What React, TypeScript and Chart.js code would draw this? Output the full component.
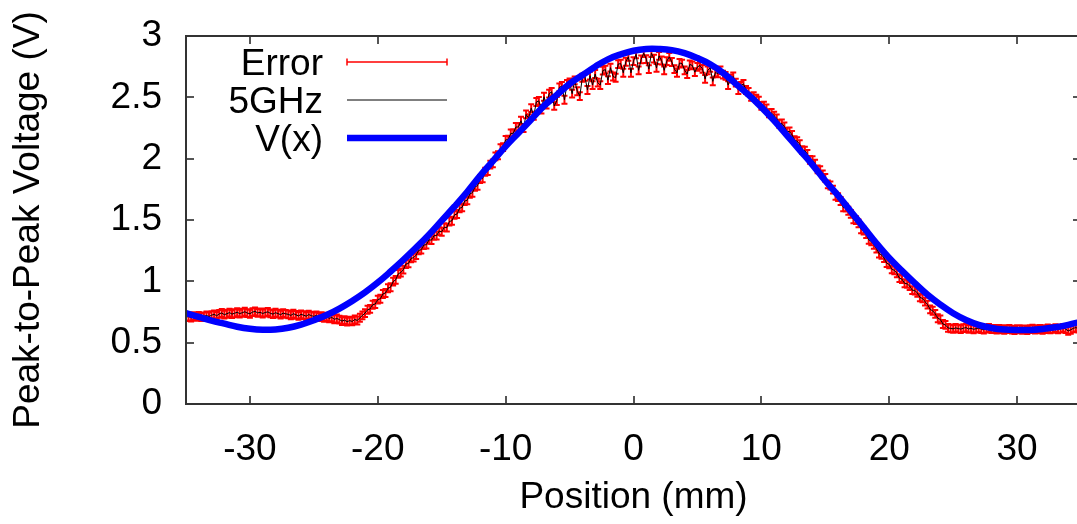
import React, { useEffect, useRef } from "react";
import { Chart, registerables } from "chart.js";

Chart.register(...registerables);

// ---- data ----
// measured positions start at -35 mm, one sample every 0.2 mm
const POSITION_START = -35;
const POSITION_STEP = 0.2;
const VOLTAGE_5GHZ = [
  0.708, 0.713, 0.705, 0.716, 0.711, 0.719, 0.709, 0.714, 0.722, 0.713,
  0.724, 0.731, 0.719, 0.735, 0.742, 0.728, 0.736, 0.745, 0.733, 0.74,
  0.748, 0.737, 0.744, 0.752, 0.741, 0.736, 0.749, 0.755, 0.743, 0.747,
  0.738, 0.746, 0.751, 0.739, 0.733, 0.744, 0.737, 0.728, 0.741, 0.735,
  0.731, 0.722, 0.736, 0.727, 0.718, 0.731, 0.724, 0.716, 0.729, 0.72,
  0.714, 0.723, 0.708, 0.716, 0.703, 0.712, 0.698, 0.706, 0.691, 0.697,
  0.688, 0.676, 0.684, 0.671, 0.68, 0.673, 0.689, 0.681, 0.703, 0.722,
  0.741, 0.768, 0.775, 0.809, 0.815, 0.851, 0.858, 0.897, 0.905, 0.944,
  0.952, 0.998, 1.012, 1.061, 1.072, 1.095, 1.141, 1.146, 1.187, 1.193,
  1.214, 1.252, 1.258, 1.296, 1.299, 1.338, 1.336, 1.372, 1.374, 1.409,
  1.404, 1.441, 1.438, 1.488, 1.494, 1.542, 1.549, 1.596, 1.603, 1.655,
  1.661, 1.713, 1.722, 1.771, 1.779, 1.834, 1.839, 1.893, 1.898, 1.952,
  1.962, 2.019, 2.028, 2.086, 2.094, 2.153, 2.155, 2.205, 2.207, 2.258,
  2.258, 2.309, 2.25, 2.361, 2.33, 2.412, 2.35, 2.462, 2.471, 2.4,
  2.505, 2.44, 2.53, 2.545, 2.43, 2.47, 2.581, 2.592, 2.48, 2.61,
  2.622, 2.53, 2.638, 2.55, 2.51, 2.66, 2.668, 2.56, 2.677, 2.6,
  2.69, 2.62, 2.6, 2.718, 2.726, 2.64, 2.742, 2.67, 2.66, 2.771,
  2.775, 2.7, 2.79, 2.83, 2.7, 2.795, 2.85, 2.72, 2.81, 2.86,
  2.812, 2.73, 2.86, 2.815, 2.74, 2.838, 2.8, 2.72, 2.795, 2.83,
  2.788, 2.73, 2.7, 2.78, 2.775, 2.72, 2.69, 2.768, 2.76, 2.705,
  2.748, 2.76, 2.732, 2.65, 2.72, 2.74, 2.63, 2.702, 2.695, 2.72,
  2.685, 2.675, 2.6, 2.652, 2.67, 2.62, 2.56, 2.594, 2.61, 2.56,
  2.545, 2.505, 2.51, 2.49, 2.472, 2.43, 2.433, 2.41, 2.37, 2.372,
  2.35, 2.328, 2.285, 2.288, 2.262, 2.22, 2.222, 2.194, 2.15, 2.143,
  2.118, 2.07, 2.066, 2.038, 1.99, 1.988, 1.96, 1.913, 1.906, 1.872,
  1.843, 1.79, 1.781, 1.748, 1.698, 1.686, 1.655, 1.603, 1.601, 1.575,
  1.55, 1.506, 1.499, 1.472, 1.425, 1.413, 1.386, 1.338, 1.326, 1.298,
  1.268, 1.226, 1.216, 1.19, 1.148, 1.138, 1.098, 1.09, 1.066, 1.026,
  1.018, 0.984, 0.98, 0.962, 0.928, 0.925, 0.906, 0.869, 0.861, 0.835,
  0.81, 0.771, 0.76, 0.735, 0.699, 0.689, 0.652, 0.645, 0.62, 0.616,
  0.613, 0.62, 0.615, 0.611, 0.618, 0.623, 0.612, 0.617, 0.609, 0.614,
  0.619, 0.611, 0.606, 0.615, 0.62, 0.61, 0.613, 0.607, 0.612, 0.609,
  0.604, 0.61, 0.613, 0.606, 0.602, 0.609, 0.611, 0.605, 0.608, 0.603,
  0.61, 0.614, 0.606, 0.609, 0.612, 0.604, 0.611, 0.616, 0.608, 0.613,
  0.618, 0.609, 0.614, 0.62, 0.611, 0.596, 0.605, 0.617, 0.623, 0.614,
  0.616,
];
const ERROR_HALF_WIDTH = 0.032;

// fitted curve V(x), one value per mm from -35 to 35
const FIT_START = -35;
const FIT_STEP = 1;
const FIT_VOLTAGE = [
  0.74, 0.71, 0.68, 0.655, 0.63, 0.613, 0.605, 0.608, 0.622, 0.648,
  0.683, 0.725, 0.778, 0.84, 0.91, 0.99, 1.08, 1.175, 1.275, 1.38,
  1.495, 1.61, 1.73, 1.86, 1.98, 2.1, 2.21, 2.32, 2.43, 2.52,
  2.61, 2.68, 2.75, 2.81, 2.85, 2.88, 2.894, 2.894, 2.885, 2.86,
  2.82, 2.77, 2.7, 2.61, 2.52, 2.42, 2.31, 2.19, 2.07, 1.95,
  1.82, 1.7, 1.57, 1.44, 1.31, 1.19, 1.085, 0.985, 0.89, 0.81,
  0.74, 0.685, 0.645, 0.62, 0.607, 0.603, 0.604, 0.612, 0.625, 0.645,
  0.67,
];

const X_TICKS = [-30, -20, -10, 0, 10, 20, 30];
const Y_TICKS = [0, 0.5, 1, 1.5, 2, 2.5, 3];
const LEGEND_LABELS = ["Error", "5GHz", "V(x)"];
const X_TITLE = "Position (mm)";
const Y_TITLE = "Peak-to-Peak Voltage (V)";

const FONT_FAMILY = "'Liberation Sans', Arial, Helvetica, sans-serif";
const FONT_SIZE = 37;

const round1 = (v: number) => Math.round(v * 10) / 10;

const dataPoints = VOLTAGE_5GHZ.map((v, i) => ({
  x: round1(POSITION_START + i * POSITION_STEP),
  y: v,
}));
const fitPoints = FIT_VOLTAGE.map((v, i) => ({
  x: FIT_START + i * FIT_STEP,
  y: v,
}));

const gnuplotDecor = {
  id: "gnuplotDecor",
  beforeDatasetsDraw(chart: any) {
    const { ctx, chartArea: a, scales } = chart;
    const xs = scales.x;
    const ys = scales.y;
    ctx.save();
    ctx.beginPath();
    ctx.rect(a.left, a.top, a.right - a.left, a.bottom - a.top);
    ctx.clip();
    ctx.strokeStyle = "rgb(255,0,0)";
    ctx.lineWidth = 2;
    ctx.beginPath();
    dataPoints.forEach((p) => {
      const px = xs.getPixelForValue(p.x);
      const lo = ys.getPixelForValue(p.y - ERROR_HALF_WIDTH);
      const hi = ys.getPixelForValue(p.y + ERROR_HALF_WIDTH);
      ctx.moveTo(px, lo);
      ctx.lineTo(px, hi);
      ctx.moveTo(px - 3, lo);
      ctx.lineTo(px + 3, lo);
      ctx.moveTo(px - 3, hi);
      ctx.lineTo(px + 3, hi);
    });
    ctx.stroke();
    ctx.restore();
  },
  afterDatasetsDraw(chart: any) {
    const { ctx, chartArea: a, scales } = chart;
    const xs = scales.x;
    const ys = scales.y;
    ctx.save();
    // inward ticks (mirrored)
    ctx.strokeStyle = "#555";
    ctx.lineWidth = 2;
    ctx.beginPath();
    X_TICKS.forEach((t) => {
      const px = Math.round(xs.getPixelForValue(t));
      ctx.moveTo(px, a.bottom);
      ctx.lineTo(px, a.bottom - 8);
      ctx.moveTo(px, a.top);
      ctx.lineTo(px, a.top + 8);
    });
    Y_TICKS.forEach((t) => {
      const py = Math.round(ys.getPixelForValue(t));
      ctx.moveTo(a.left, py);
      ctx.lineTo(a.left + 8, py);
      ctx.moveTo(a.right, py);
      ctx.lineTo(a.right - 8, py);
    });
    ctx.stroke();
    // border
    ctx.strokeStyle = "#333";
    ctx.lineWidth = 2;
    ctx.strokeRect(a.left, a.top, a.right - a.left, a.bottom - a.top);

    // key
    const textRight = a.left + 137;
    const sampleL = a.left + 161;
    const sampleR = a.left + 261;
    const rowY = [a.top + 26, a.top + 64, a.top + 102];
    ctx.font = `${FONT_SIZE}px ${FONT_FAMILY}`;
    ctx.fillStyle = "#000";
    ctx.textAlign = "right";
    ctx.textBaseline = "alphabetic";
    LEGEND_LABELS.forEach((lab, i) => {
      ctx.fillText(lab, textRight, rowY[i] + 13);
    });
    // Error sample
    ctx.strokeStyle = "rgb(255,0,0)";
    ctx.lineWidth = 1.5;
    ctx.beginPath();
    ctx.moveTo(sampleL, rowY[0]);
    ctx.lineTo(sampleR, rowY[0]);
    ctx.moveTo(sampleL, rowY[0] - 3.5);
    ctx.lineTo(sampleL, rowY[0] + 3.5);
    ctx.moveTo(sampleR, rowY[0] - 3.5);
    ctx.lineTo(sampleR, rowY[0] + 3.5);
    ctx.stroke();
    // 5GHz sample
    ctx.strokeStyle = "#000";
    ctx.lineWidth = 1;
    ctx.beginPath();
    ctx.moveTo(sampleL, rowY[1]);
    ctx.lineTo(sampleR, rowY[1]);
    ctx.stroke();
    // V(x) sample
    ctx.strokeStyle = "rgb(0,0,255)";
    ctx.lineWidth = 6.5;
    ctx.beginPath();
    ctx.moveTo(sampleL, rowY[2]);
    ctx.lineTo(sampleR, rowY[2]);
    ctx.stroke();
    ctx.restore();
  },
};

export default function App() {
  const canvasRef = useRef<HTMLCanvasElement | null>(null);

  useEffect(() => {
    const canvas = canvasRef.current;
    if (!canvas) return;
    const font = { family: FONT_FAMILY, size: FONT_SIZE };
    const chart = new Chart(canvas, {
      type: "line",
      data: {
        datasets: [
          {
            label: "V(x)",
            data: fitPoints,
            borderColor: "rgb(0,0,255)",
            borderWidth: 6.5,
            pointRadius: 0,
            tension: 0.4,
            order: 0,
            clip: 0,
          },
          {
            label: "5GHz",
            data: dataPoints,
            borderColor: "#000",
            borderWidth: 1,
            pointRadius: 0,
            tension: 0,
            order: 1,
            clip: 0,
          },
        ],
      },
      options: {
        animation: false,
        responsive: false,
        events: [],
        layout: { padding: { left: 0, right: 4, top: 36, bottom: 0 } },
        plugins: {
          legend: { display: false },
          tooltip: { enabled: false },
        },
        scales: {
          x: {
            type: "linear",
            min: -35,
            max: 35,
            afterBuildTicks: (s: any) => {
              s.ticks = X_TICKS.map((v) => ({ value: v }));
            },
            afterFit: (s: any) => {
              s.height = 120;
              s.paddingLeft = 0;
              s.paddingRight = 0;
              s.paddingTop = 0;
              s.paddingBottom = 0;
            },
            grid: { display: false, drawTicks: false },
            border: { display: false },
            ticks: {
              padding: 24,
              font,
              color: "#000",
              maxRotation: 0,
              autoSkip: false,
              callback: (v: any) => String(v),
            },
            title: {
              display: true,
              text: X_TITLE,
              font,
              color: "#000",
              padding: { top: 0, bottom: 4 },
            },
          },
          y: {
            type: "linear",
            min: 0,
            max: 3,
            afterBuildTicks: (s: any) => {
              s.ticks = Y_TICKS.map((v) => ({ value: v }));
            },
            afterFit: (s: any) => {
              s.width = 186;
              s.paddingLeft = 0;
              s.paddingRight = 0;
              s.paddingTop = 0;
              s.paddingBottom = 0;
            },
            grid: { display: false, drawTicks: false },
            border: { display: false },
            ticks: {
              padding: 24,
              font,
              color: "#000",
              autoSkip: false,
              callback: (v: any) => String(v),
            },
            title: {
              display: true,
              text: Y_TITLE,
              font,
              color: "#000",
              padding: { top: 7, bottom: 0 },
            },
          },
        },
      },
      plugins: [gnuplotDecor],
    } as any);
    return () => chart.destroy();
  }, []);

  return (
    <div
      style={{
        position: "fixed",
        left: 0,
        top: 0,
        width: 1077,
        height: 524,
        overflow: "hidden",
        background: "#fff",
      }}
    >
      <canvas ref={canvasRef} width={1085} height={524} style={{ display: "block" }} />
    </div>
  );
}
